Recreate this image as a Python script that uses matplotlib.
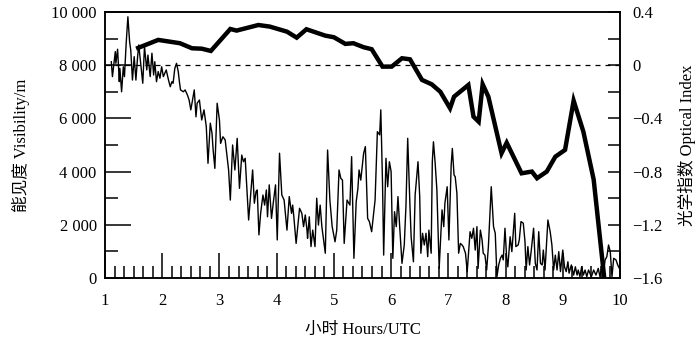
import matplotlib
matplotlib.use("Agg")
import matplotlib.pyplot as plt
from matplotlib.ticker import MultipleLocator

plt.rcParams['font.family'] = ['Liberation Serif', 'Noto Sans CJK SC']
plt.rcParams['font.size'] = 12

# visibility (m), thin line
vis_hours = [1.11, 1.13, 1.18, 1.19, 1.22, 1.25, 1.26, 1.29, 1.32, 1.34,
             1.37, 1.40, 1.43, 1.45, 1.48, 1.51, 1.54, 1.57, 1.59, 1.62,
             1.66, 1.69, 1.73, 1.75, 1.79, 1.82, 1.85, 1.87, 1.90, 1.93,
             1.96, 1.99, 2.02, 2.07, 2.11, 2.14, 2.17, 2.19, 2.22, 2.25,
             2.28, 2.30, 2.32, 2.37, 2.40, 2.44, 2.47, 2.50, 2.53, 2.56,
             2.59, 2.61, 2.65, 2.69, 2.73, 2.77, 2.80, 2.84, 2.87, 2.89,
             2.92, 2.96, 3.00, 3.02, 3.06, 3.10, 3.16, 3.19, 3.23, 3.27,
             3.31, 3.35, 3.39, 3.42, 3.45, 3.51, 3.58, 3.61, 3.64, 3.66,
             3.69, 3.72, 3.76, 3.79, 3.82, 3.84, 3.87, 3.91, 3.94, 3.98,
             4.01, 4.05, 4.09, 4.13, 4.18, 4.22, 4.26, 4.28, 4.30, 4.34,
             4.40, 4.44, 4.47, 4.50, 4.53, 4.54, 4.57, 4.60, 4.63, 4.67,
             4.70, 4.73, 4.76, 4.79, 4.85, 4.89, 4.93, 4.97, 5.02, 5.05,
             5.09, 5.12, 5.15, 5.18, 5.23, 5.28, 5.31, 5.35, 5.39, 5.42,
             5.44, 5.47, 5.52, 5.55, 5.59, 5.62, 5.66, 5.72, 5.76, 5.80,
             5.82, 5.85, 5.87, 5.91, 5.94, 5.97, 6.00, 6.03, 6.06, 6.09,
             6.12, 6.15, 6.19, 6.23, 6.26, 6.29, 6.33, 6.35, 6.39, 6.42,
             6.47, 6.50, 6.52, 6.55, 6.58, 6.61, 6.64, 6.66, 6.70, 6.72,
             6.74, 6.77, 6.80, 6.84, 6.89, 6.92, 6.94, 6.98, 7.01, 7.05,
             7.07, 7.10, 7.12, 7.15, 7.18, 7.21, 7.24, 7.26, 7.30, 7.33,
             7.38, 7.41, 7.44, 7.47, 7.50, 7.52, 7.56, 7.59, 7.61, 7.64,
             7.67, 7.70, 7.75, 7.79, 7.82, 7.85, 7.88, 7.91, 7.94, 7.96,
             7.99, 8.02, 8.04, 8.08, 8.11, 8.16, 8.18, 8.22, 8.24, 8.27,
             8.31, 8.34, 8.36, 8.39, 8.42, 8.45, 8.49, 8.52, 8.55, 8.58,
             8.61, 8.64, 8.66, 8.69, 8.74, 8.78, 8.81, 8.84, 8.87, 8.90,
             8.93, 8.96, 9.00, 9.03, 9.06, 9.09, 9.11, 9.15, 9.19, 9.22,
             9.25, 9.27, 9.30, 9.33, 9.36, 9.39, 9.42, 9.45, 9.50, 9.54,
             9.58, 9.62, 9.65, 9.68, 9.71, 9.74, 9.77, 9.80, 9.83, 9.86,
             9.89, 9.93, 9.96, 9.99]
visibility = [8130, 7570, 8510, 8070, 8600, 7380, 7880, 7000, 7940, 7570,
              8820, 9820, 8880, 8570, 7440, 8320, 7440, 8320, 8760, 8130,
              7320, 8700, 7820, 8380, 7570, 8450, 7630, 8130, 7380, 7760,
              7510, 7940, 7570, 7820, 7440, 7190, 7380, 7320, 7880, 8070,
              7760, 7380, 7070, 7000, 7070, 6880, 6690, 6320, 6690, 7070,
              6060, 6570, 6690, 5940, 6320, 5690, 4310, 5820, 5440, 4810,
              4120, 6570, 5940, 5060, 5310, 5190, 4060, 2930, 5000, 4060,
              5250, 3370, 4620, 4370, 4500, 2180, 4060, 2810, 3250, 3310,
              1620, 2430, 3120, 2740, 3310, 2300, 3500, 2240, 2810, 3500,
              1430, 4690, 3120, 2930, 1800, 3060, 2430, 2740, 2300, 1300,
              2620, 2430, 1930, 2370, 1800, 1490, 2300, 1180, 1800, 1180,
              3000, 1990, 2740, 1930, 930, 4810, 2930, 1930, 1360, 1800,
              4060, 3750, 3680, 1300, 2930, 2740, 4560, 740, 2870, 3370,
              4060, 3680, 4690, 4940, 2240, 2120, 1740, 2930, 5500, 5380,
              6320, 3560, 860, 4500, 3430, 4370, 4000, 740, 2490, 1930,
              3060, 1930, 550, 1240, 2740, 5250, 2680, 1550, 610, 3120,
              4370, 3060, 930, 1680, 1240, 1680, 800, 1800, 930, 4370,
              5120, 4310, 3310, 360, 2560, 1930, 2810, 3430, 1430, 4250,
              4870, 3870, 3810, 3180, 930, 1300, 1240, 1180, 930, 240,
              1740, 1490, 1870, 1050, 1930, 360, 1800, 1430, 930, 860,
              300, 1180, 3430, 1930, 1680, 50, 490, 740, 860, 680,
              1870, 740, 420, 1550, 990, 2430, 1180, 1240, 1430, 2120,
              2060, 1360, 300, 1180, 490, 1050, 1870, 550, 300, 1740,
              550, 490, 1050, 300, 2180, 1740, 1240, 300, 860, 300,
              990, 240, 1050, 420, 240, 610, 180, 490, 110, 420,
              110, 300, 50, 420, 110, 300, 50, 300, 50, 300,
              110, 360, 50, 420, 180, 680, 800, 1240, 990, 50,
              740, 680, 490, 360]

# optical index, thick line
opt_hours = [1.58, 1.93, 2.31, 2.52, 2.69, 2.85, 3.19, 3.30, 3.68, 3.88,
             4.18, 4.35, 4.52, 4.85, 5.00, 5.20, 5.34, 5.52, 5.66, 5.85,
             6.01, 6.19, 6.33, 6.54, 6.71, 6.86, 7.03, 7.10, 7.35, 7.44,
             7.53, 7.60, 7.70, 7.93, 8.02, 8.28, 8.46, 8.55, 8.72, 8.87,
             9.04, 9.19, 9.36, 9.54, 9.72]
optical = [0.13, 0.19, 0.165, 0.127, 0.124, 0.107, 0.272, 0.26, 0.302, 0.29,
           0.252, 0.207, 0.27, 0.222, 0.21, 0.16, 0.165, 0.135, 0.12, -0.011,
           -0.011, 0.052, 0.044, -0.111, -0.144, -0.2, -0.324, -0.237, -0.149, -0.387,
           -0.425, -0.144, -0.237, -0.662, -0.583, -0.813, -0.80, -0.85, -0.80, -0.688,
           -0.637, -0.267, -0.50, -0.86, -1.58]

hour_ticks = [1, 2, 3, 4, 5, 6, 7, 8, 9, 10]
vis_ticks = [0, 2000, 4000, 6000, 8000, 10000]
vis_labels = ['0', '2 000', '4 000', '6 000', '8 000', '10 000']
opt_ticks = [-1.6, -1.2, -0.8, -0.4, 0, 0.4]
opt_labels = ['\u22121.6', '\u22121.2', '\u22120.8', '\u22120.4', '0', '0.4']

fig = plt.figure(figsize=(7, 3.4), dpi=100)
ax = fig.add_axes([0.15, 0.1824, 0.7357, 0.7824])
ax2 = ax.twinx()

ax.plot(vis_hours, visibility, color='black', lw=1.0)
ax.axhline(8000, color='black', lw=0.9, dashes=(4, 4))
ax2.plot(opt_hours, optical, color='black', lw=3.2, solid_joinstyle='miter')

ax.set_xlim(1, 10)
ax.set_ylim(0, 10000)
ax2.set_ylim(-1.6, 0.4)

ax.set_xticks(hour_ticks)
ax.xaxis.set_minor_locator(MultipleLocator(1 / 6))
ax.set_yticks(vis_ticks)
ax.set_yticklabels(vis_labels)
ax.yaxis.set_minor_locator(MultipleLocator(1000))
ax2.set_yticks(opt_ticks)
ax2.set_yticklabels(opt_labels)
ax2.yaxis.set_minor_locator(MultipleLocator(0.2))

ax.tick_params(axis='x', which='major', direction='in', length=18, width=1.1, pad=11)
ax.tick_params(axis='x', which='minor', direction='in', length=9, width=1.1)
ax.tick_params(axis='y', which='major', direction='in', length=19, width=1.1, pad=6)
ax.tick_params(axis='y', which='minor', direction='in', length=9.5, width=1.1)
ax2.tick_params(axis='y', which='both', direction='in', length=8.5, width=1.1, pad=9)

for a in (ax, ax2):
    for s in a.spines.values():
        s.set_linewidth(1.1)

ax.set_xlabel('小时 Hours/UTC', labelpad=9)
ax.set_ylabel('能见度 Visibility/m', labelpad=15)
ax2.set_ylabel('光学指数 Optical Index', labelpad=11)

fig.savefig('out.png', dpi=100)
